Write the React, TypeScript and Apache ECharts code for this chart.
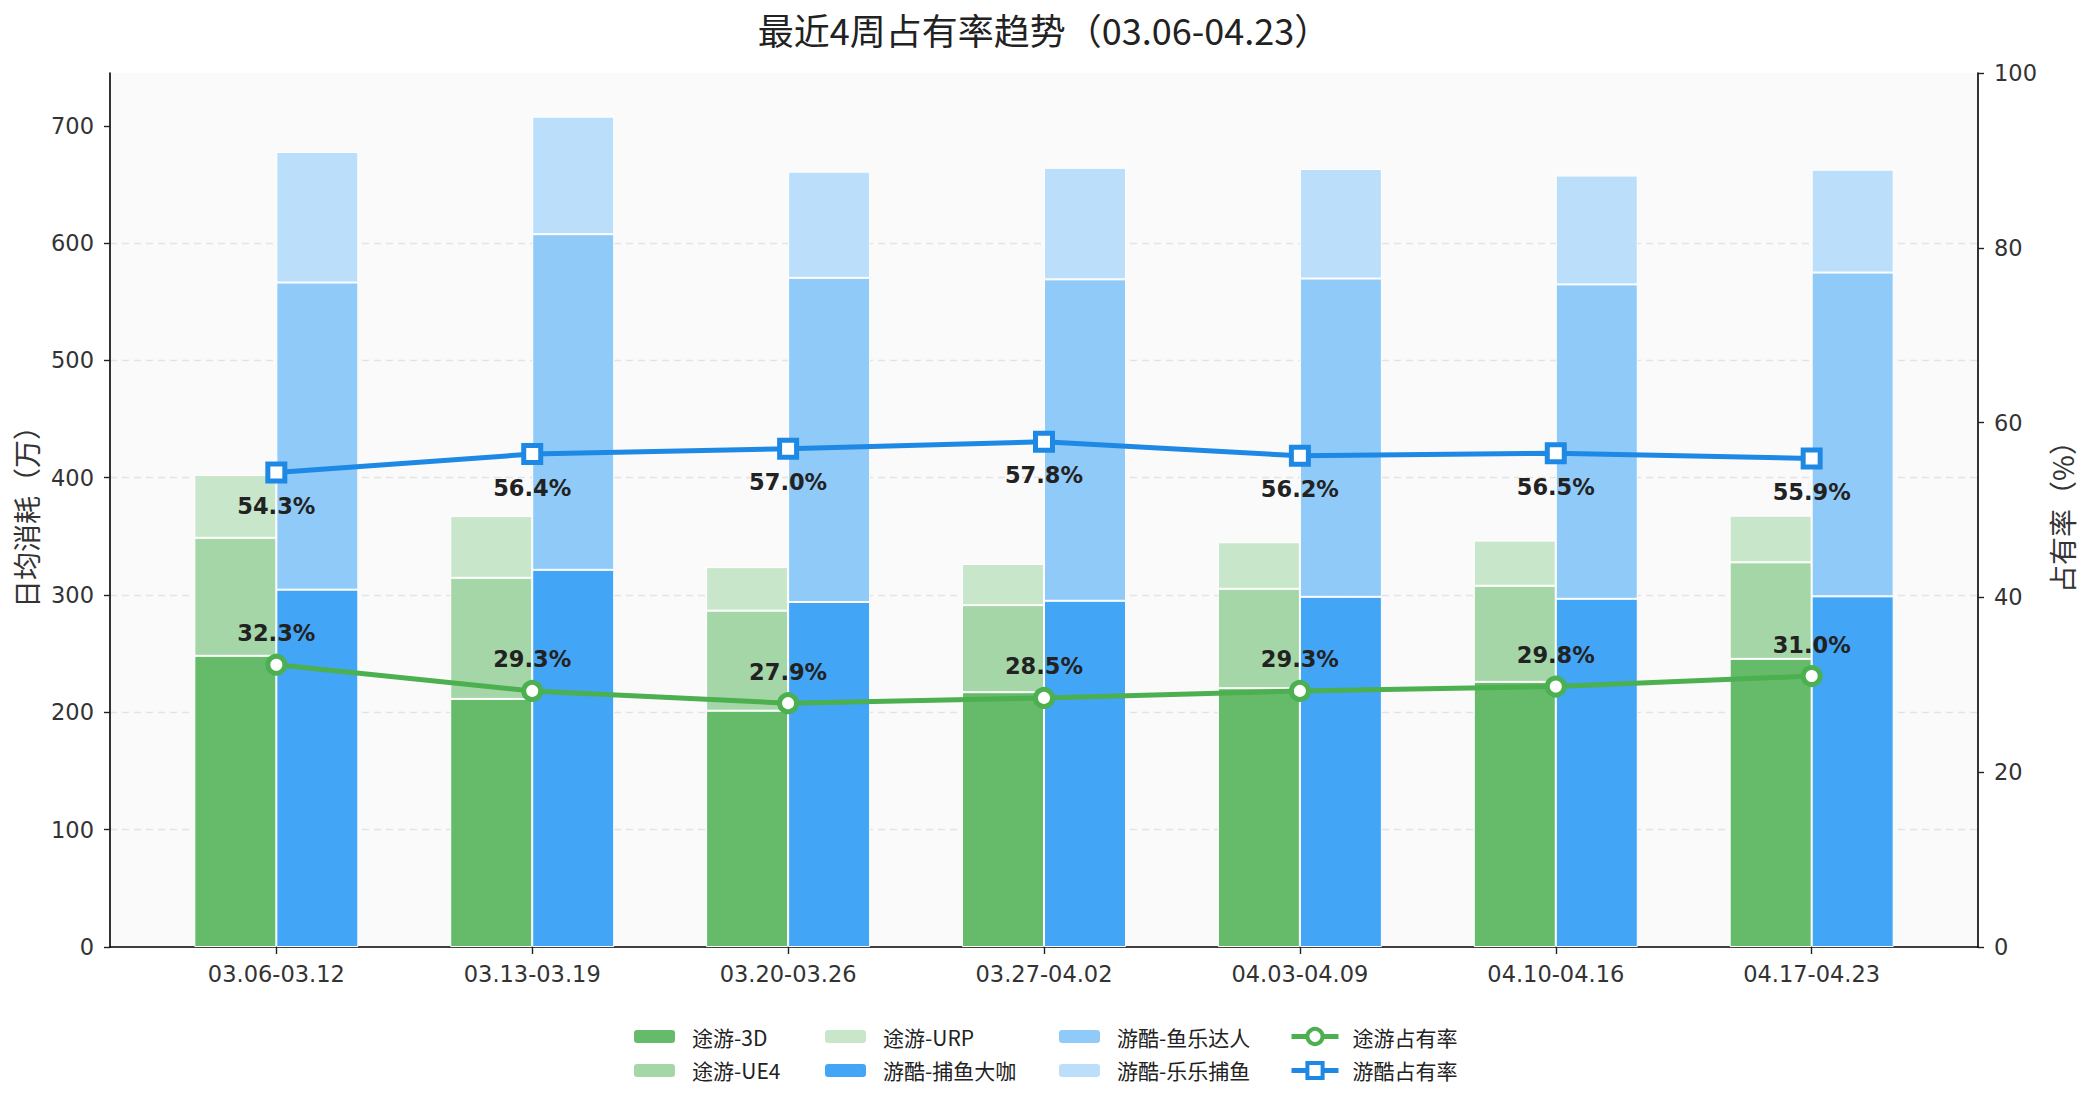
import React, { useEffect, useRef } from 'react';
import * as echarts from 'echarts';

const weeks = ['03.06-03.12', '03.13-03.19', '03.20-03.26', '03.27-04.02', '04.03-04.09', '04.10-04.16', '04.17-04.23'];
const tuyou3D = [248.2, 211.5, 201.4, 217.2, 220.6, 226.0, 245.6];
const tuyouUE4 = [100.6, 103.2, 85.3, 74.2, 84.7, 81.9, 82.3];
const tuyouURP = [53.6, 52.6, 37.1, 35.1, 39.7, 38.5, 39.8];
const youkuBuyu = [304.6, 321.5, 294.1, 295.1, 298.5, 296.8, 298.9];
const youkuYule = [261.8, 286.1, 276.3, 274.0, 271.3, 268.0, 276.0];
const youkuLele = [111.3, 100.2, 90.5, 95.1, 93.4, 92.8, 87.7];
const tuyouShare = [32.3, 29.3, 27.9, 28.5, 29.3, 29.8, 31.0];
const youkuShare = [54.3, 56.4, 57.0, 57.8, 56.2, 56.5, 55.9];
const leftTicks = [0, 100, 200, 300, 400, 500, 600, 700];

const CJK = 'Noto Sans CJK SC';
const LATIN = 'DejaVu Sans';

// value first, category index second, so the value dimension is the stacked one
const pairs = (arr: number[]) => arr.map((v, i) => [v, i]);

function barSeries(name: string, stack: string, color: string, values: number[]) {
  return {
    name,
    type: 'bar',
    stack,
    barWidth: 82,
    barGap: 0,
    encode: { x: 1, y: 0 },
    data: pairs(values),
    itemStyle: { color, borderColor: '#ffffff', borderWidth: 1 },
    emphasis: { disabled: true },
  };
}

function lineSeries(name: string, color: string, symbol: string, values: number[], pos: string, dist: number) {
  return {
    name,
    type: 'line',
    yAxisIndex: 1,
    z: 5,
    encode: { x: 1, y: 0 },
    data: pairs(values),
    symbol,
    symbolSize: 17,
    lineStyle: { color, width: 5 },
    itemStyle: { color: '#ffffff', borderColor: color, borderWidth: 5 },
    label: {
      show: true,
      position: pos,
      distance: dist,
      formatter: (p: any) => p.value[0].toFixed(1) + '%',
      fontFamily: LATIN,
      fontWeight: 'bold',
      fontSize: 22.5,
      color: '#222222',
    },
    emphasis: { disabled: true },
  };
}

function legendCol(left: number, data: string[], itemWidth: number, itemHeight: number, pad: number, border: number) {
  return {
    orient: 'vertical',
    left,
    top: 1026,
    padding: 0,
    itemGap: 13,
    itemWidth,
    itemHeight,
    data,
    itemStyle: { borderWidth: border },
    lineStyle: { width: 5 },
    textStyle: { fontFamily: CJK, fontSize: 21, color: '#222222', lineHeight: 20, padding: [0, 0, 0, pad] },
  };
}

export default function App() {
  const ref = useRef<HTMLDivElement>(null);
  useEffect(() => {
    document.body.style.margin = '0';
    const chart = echarts.init(ref.current!, null, { renderer: 'svg' });
    const axisLineStyle = { color: '#000000', width: 1.6 };
    const option: any = {
      animation: false,
      backgroundColor: '#ffffff',
      title: {
        text: '最近4周占有率趋势（03.06-04.23）',
        left: 'center',
        top: 6,
        textStyle: { fontFamily: CJK, fontSize: 36, fontWeight: 'normal', color: '#222222' },
      },
      grid: {
        left: 110,
        right: 110,
        top: 73,
        bottom: 157,
        show: true,
        backgroundColor: '#fafafa',
        borderWidth: 0,
      },
      legend: [
        legendCol(634, ['途游-3D', '途游-UE4'], 41, 13, 12, 0),
        legendCol(825, ['途游-URP', '游酷-捕鱼大咖'], 41, 13, 12, 0),
        legendCol(1059, ['游酷-鱼乐达人', '游酷-乐乐捕鱼'], 41, 13, 12, 0),
        legendCol(1289, ['途游占有率', '游酷占有率'], 47, 19, 9, 4),
      ],
      xAxis: {
        type: 'value',
        min: -0.65,
        max: 6.65,
        axisLine: { show: true, onZero: false, lineStyle: axisLineStyle },
        axisTick: { show: true, length: 7, lineStyle: { color: '#222222', width: 1.4 }, customValues: weeks.map((_, i) => i) },
        axisLabel: {
          customValues: weeks.map((_, i) => i),
          formatter: (v: number) => weeks[Math.round(v)] ?? '',
          fontFamily: LATIN,
          fontSize: 22.5,
          color: '#333333',
          margin: 15,
        },
        splitLine: { show: false },
      },
      yAxis: [
        {
          type: 'value',
          min: 0,
          max: 745,
          interval: 100,
          name: '日均消耗（万）',
          nameLocation: 'middle',
          nameRotate: 90,
          nameGap: 68,
          nameTextStyle: { fontFamily: CJK, fontSize: 28, color: '#333333' },
          axisLine: { show: true, onZero: false, lineStyle: axisLineStyle },
          axisTick: { show: true, length: 6, lineStyle: { color: '#222222', width: 1.4 }, customValues: leftTicks },
          axisLabel: { customValues: leftTicks, fontFamily: LATIN, fontSize: 22.5, color: '#333333', margin: 16 },
          splitLine: { show: true, showMaxLine: false, showMinLine: false, lineStyle: { color: '#e4e4e4', type: [7, 5], width: 1.3 } },
        },
        {
          type: 'value',
          min: 0,
          max: 100,
          interval: 20,
          position: 'right',
          name: '占有率（%）',
          nameLocation: 'middle',
          nameRotate: 90,
          nameGap: 67,
          nameTextStyle: { fontFamily: CJK, fontSize: 28, color: '#333333' },
          axisLine: { show: true, onZero: false, lineStyle: axisLineStyle },
          axisTick: { show: true, length: 6, lineStyle: { color: '#222222', width: 1.4 } },
          axisLabel: { fontFamily: LATIN, fontSize: 22.5, color: '#333333', margin: 16 },
          splitLine: { show: false },
        },
      ],
      series: [
        barSeries('途游-3D', 'tuyou', '#66bb6a', tuyou3D),
        barSeries('途游-UE4', 'tuyou', '#a5d6a7', tuyouUE4),
        barSeries('途游-URP', 'tuyou', '#c8e6c9', tuyouURP),
        barSeries('游酷-捕鱼大咖', 'youku', '#42a5f5', youkuBuyu),
        barSeries('游酷-鱼乐达人', 'youku', '#90caf9', youkuYule),
        barSeries('游酷-乐乐捕鱼', 'youku', '#bbdefb', youkuLele),
        lineSeries('途游占有率', '#4caf50', 'circle', tuyouShare, 'top', 9),
        lineSeries('游酷占有率', '#1e88e5', 'rect', youkuShare, 'bottom', 11),
      ],
    };
    chart.setOption(option);
    return () => chart.dispose();
  }, []);
  return <div ref={ref} style={{ width: 2088, height: 1104 }} />;
}
